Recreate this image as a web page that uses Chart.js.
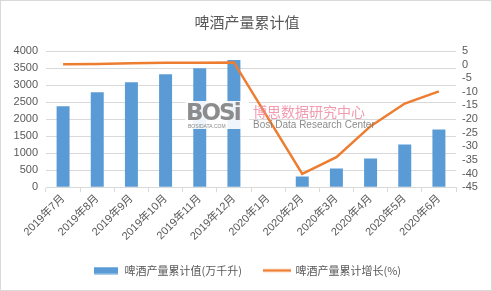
<!DOCTYPE html>
<html>
<head>
<meta charset="utf-8">
<script src="https://cdn.jsdelivr.net/npm/chart.js@4.4.1/dist/chart.umd.min.js"></script>
<style>
html,body{margin:0;padding:0;background:#fff;}
#wrap{position:relative;width:492px;height:291px;box-sizing:border-box;border:1px solid #d9d9d9;}
canvas{position:absolute;left:0;top:0;}
#wm{position:absolute;left:184px;top:100px;width:190px;height:32px;pointer-events:none;}
#wm .logo{position:absolute;left:0;top:0;width:62px;font:bold 23px "DejaVu Sans",sans-serif;color:#8c8c8c;letter-spacing:-2px;background:rgba(255,255,255,0.9);line-height:22px;padding:0 1px 6px 1px;}
#wm .dom{position:absolute;left:3px;top:22px;font:5px "Liberation Sans",sans-serif;color:#888;}
#wm .cn{position:absolute;left:68px;top:2px;font:14px "Noto Sans CJK SC",sans-serif;color:#f08aa0;line-height:16px;opacity:0.85;}
#wm .en{position:absolute;left:68px;top:18px;font:10px "Liberation Sans",sans-serif;color:#777;line-height:11px;opacity:0.85;}
</style>
</head>
<body>
<div id="wrap">
<canvas id="c" width="492" height="291"></canvas>
<div id="wm"><div class="logo">BOSi</div><div class="dom">BOSIDATA.COM</div><div class="cn">博思数据研究中心</div><div class="en">Bosi Data Research Center</div></div>
</div>
<script>
const categories = ["2019年7月","2019年8月","2019年9月","2019年10月","2019年11月","2019年12月","2020年1月","2020年2月","2020年3月","2020年4月","2020年5月","2020年6月"];
const cumulativeValue = [2375, 2785, 3080, 3315, 3490, 3735, null, 315, 550, 845, 1255, 1695];
const cumulativeGrowth = [0.1, 0.2, 0.5, 0.7, 0.7, 0.8, null, -40.1, -34.0, -22.6, -14.3, -9.8];
const leftTicks = [0, 4000, 500];
const rightTicks = [-45, 5, 5];
const seriesNames = ["啤酒产量累计值(万千升)", "啤酒产量累计增长(%)"];
const title = "啤酒产量累计值";

const BLUE = "#5b9bd5", ORANGE = "#ed7d31", TXT = "#595959", GRID = "#d9d9d9";
const FONT = '"Liberation Sans","Noto Sans CJK SC",sans-serif';

function swatch(color, w, h, bh) {
  const c = document.createElement('canvas'); c.width = w; c.height = h;
  const g = c.getContext('2d'); g.fillStyle = color; g.fillRect(0, (h - bh) / 2, w, bh);
  return c;
}

new Chart(document.getElementById('c'), {
  data: {
    labels: categories,
    datasets: [
      { type: 'line', label: seriesNames[1], data: cumulativeGrowth, yAxisID: 'y1', borderColor: ORANGE, backgroundColor: ORANGE,
        borderWidth: 2.5, pointRadius: 0, spanGaps: true, tension: 0, order: 0, pointStyle: swatch(ORANGE, 28, 8, 2.5) },
      { type: 'bar', label: seriesNames[0], data: cumulativeValue, yAxisID: 'y', backgroundColor: BLUE,
        categoryPercentage: 1, barPercentage: 0.38, order: 1, pointStyle: swatch(BLUE, 24, 8, 7) }
    ]
  },
  options: {
    responsive: false, animation: false, devicePixelRatio: 1,
    layout: { padding: { left: 6, right: 6, top: 0, bottom: 6 } },
    plugins: {
      title: { display: true, text: title, color: TXT, font: { family: '"Noto Sans CJK SC",sans-serif', size: 15, weight: 'normal' }, padding: { top: 12, bottom: 20 } },
      legend: { position: 'bottom', reverse: true,
        labels: { usePointStyle: true, pointStyleWidth: 26, color: TXT, font: { family: '"Noto Sans CJK SC",sans-serif', size: 11 }, padding: 22, boxHeight: 8 } },
      tooltip: { enabled: false }
    },
    scales: {
      x: { grid: { offset: true, drawOnChartArea: false, drawTicks: true, tickLength: 5, color: GRID },
        border: { color: GRID },
        ticks: { color: TXT, font: { family: FONT, size: 11 }, maxRotation: 45, minRotation: 45, padding: 0, autoSkip: false } },
      y: { position: 'left', min: leftTicks[0], max: leftTicks[1],
        ticks: { stepSize: leftTicks[2], color: TXT, font: { family: FONT, size: 11 }, padding: 8, autoSkip: false, callback: v => String(v) },
        grid: { color: GRID, drawTicks: false }, border: { display: false },
        afterFit(s) { s.width = 39; } },
      y1: { position: 'right', min: rightTicks[0], max: rightTicks[1],
        ticks: { stepSize: rightTicks[2], color: TXT, font: { family: FONT, size: 11 }, padding: 6, autoSkip: false, callback: v => String(v) },
        grid: { drawOnChartArea: false, drawTicks: false }, border: { display: false },
        afterFit(s) { s.width = 31; } }
    }
  }
});
</script>
</body>
</html>
